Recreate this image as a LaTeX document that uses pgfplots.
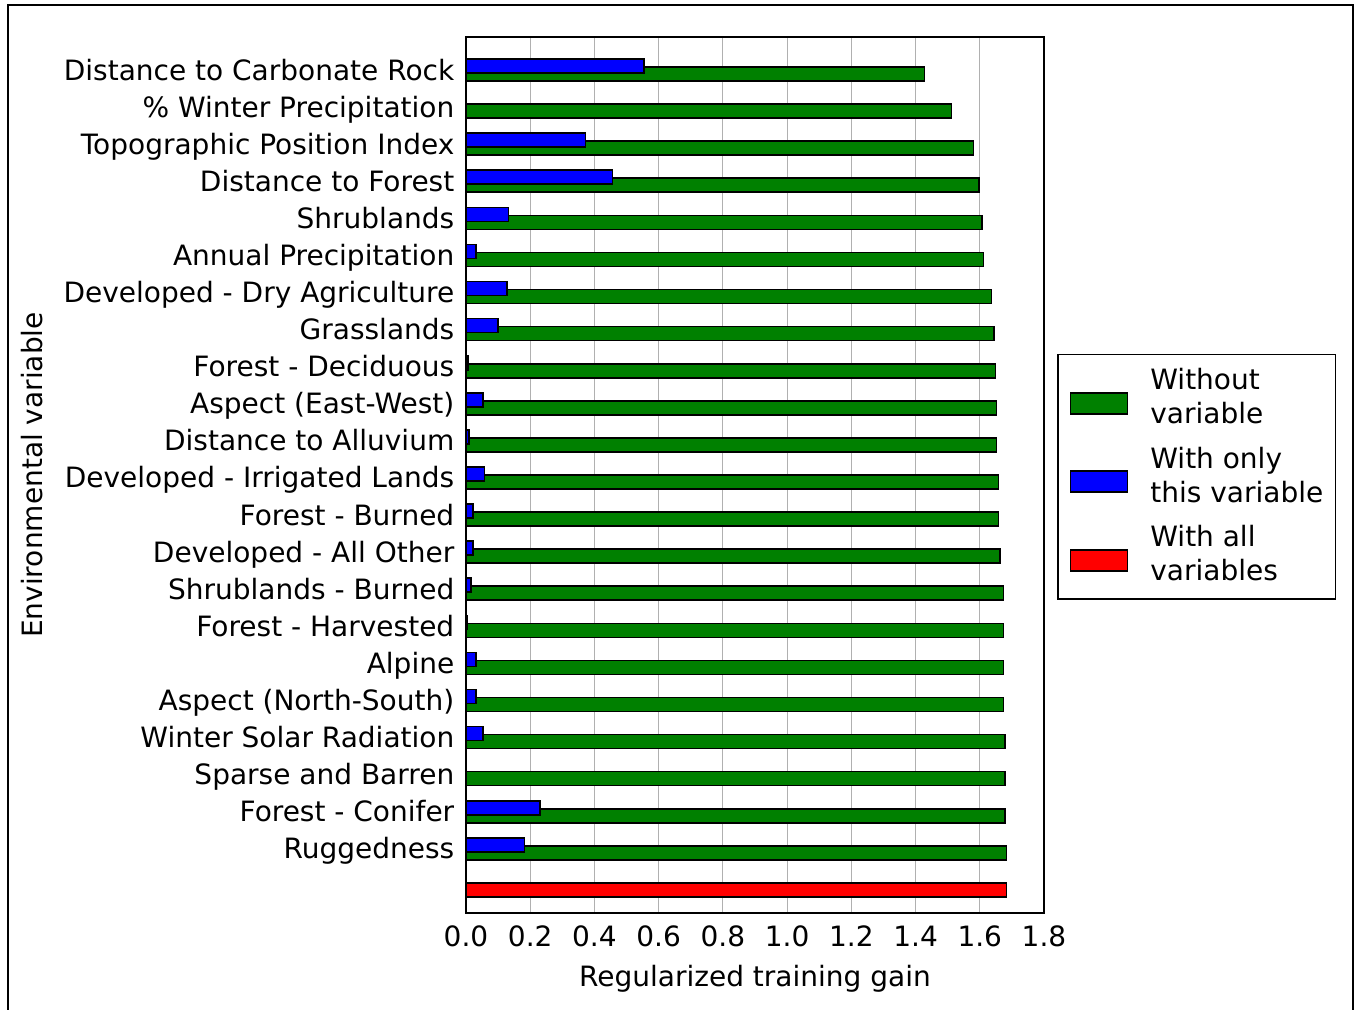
\documentclass[border=0pt]{standalone}
\usepackage{fontspec}
\setmainfont{DejaVu Sans}
\usepackage{pgfplots}
\usepackage{pgfplotstable}
\pgfplotsset{compat=1.18}

\definecolor{mplgreen}{RGB}{0,128,0}
\definecolor{gridgray}{RGB}{176,176,176}

% idx = row from the top, without = gain without the variable, only = gain with only it
\pgfplotstableread{
idx without only
0  1.428 0.554
1  1.512 nan
2  1.580 0.372
3  1.597 0.456
4  1.607 0.132
5  1.612 0.032
6  1.637 0.127
7  1.644 0.100
8  1.649 0.006
9  1.652 0.053
10 1.652 0.010
11 1.658 0.058
12 1.658 0.022
13 1.663 0.022
14 1.674 0.015
15 1.674 0.005
16 1.674 0.032
17 1.674 0.032
18 1.679 0.053
19 1.679 nan
20 1.679 0.230
21 1.683 0.182
}\gaintable

\begin{document}
\fontsize{14pt}{17pt}\selectfont
\begin{tikzpicture}
\useasboundingbox (0,0) rectangle (677pt,504.5pt);
\draw[line width=0.75pt] (4pt,-1pt) -- (4pt,502pt) -- (676.5pt,502pt) -- (676.5pt,-1pt);
\begin{axis}[
  at={(233pt,48pt)}, anchor=south west,
  scale only axis,
  width=289pt, height=438pt,
  xmin=0, xmax=1.8,
  ymin=-0.89, ymax=22.73,
  y dir=reverse,
  xtick={0,0.2,...,1.8},
  ytick={0,1,...,22},
  yticklabels={Distance to Carbonate Rock, \% Winter Precipitation, Topographic Position Index,
    Distance to Forest, Shrublands, Annual Precipitation, Developed - Dry Agriculture,
    Grasslands, Forest - Deciduous, Aspect (East-West), Distance to Alluvium,
    Developed - Irrigated Lands, Forest - Burned, Developed - All Other,
    Shrublands - Burned, Forest - Harvested, Alpine, Aspect (North-South),
    Winter Solar Radiation, Sparse and Barren, Forest - Conifer, Ruggedness, {}},
  major tick length=0pt,
  xmajorgrids,
  major grid style={gridgray, line width=0.5pt},
  axis line style={line width=0.9pt},
  /pgf/number format/assume math mode=true,
  xticklabel style={yshift=-1.5pt, /pgf/number format/fixed,
    /pgf/number format/fixed zerofill, /pgf/number format/precision=1},
  yticklabel style={anchor=base east, xshift=-1pt, yshift=-5pt},
  xlabel={Regularized training gain},
  ylabel={Environmental variable},
  every axis x label/.style={at={(axis description cs:0.5,-0.0753)}, anchor=center},
  every axis y label/.style={at={(axis description cs:-0.7509,0.5)}, rotate=90, anchor=center},
  xbar,
  bar width=0.377,
  legend cell align=left,
  legend style={at={(1.0225,0.498)}, anchor=west, draw=black, line width=0.75pt,
    inner xsep=6pt, inner ysep=7pt, row sep=9.5pt, column sep=11pt,
    cells={align=left}, nodes={inner sep=0pt}},
  legend image code/.code={\draw[#1, line width=0.8pt] (0pt,-7.75pt) rectangle (28.5pt,2.75pt);},
]
\addplot[xbar, bar shift=0pt, fill=mplgreen, draw=black, line width=0.8pt]
  table[x=without, y expr=\thisrow{idx}+0.108] {\gaintable};
\addlegendentry{Without\\variable}
\addplot[xbar, bar shift=0pt, fill=blue, draw=black, line width=0.8pt]
  table[x=only, y expr=\thisrow{idx}-0.108] {\gaintable};
\addlegendentry{With only\\this variable}
\addplot[xbar, bar shift=0pt, fill=red, draw=black, line width=0.8pt]
  coordinates {(1.683,22.108)};
\addlegendentry{With all\\variables}
\end{axis}
\end{tikzpicture}
\end{document}
